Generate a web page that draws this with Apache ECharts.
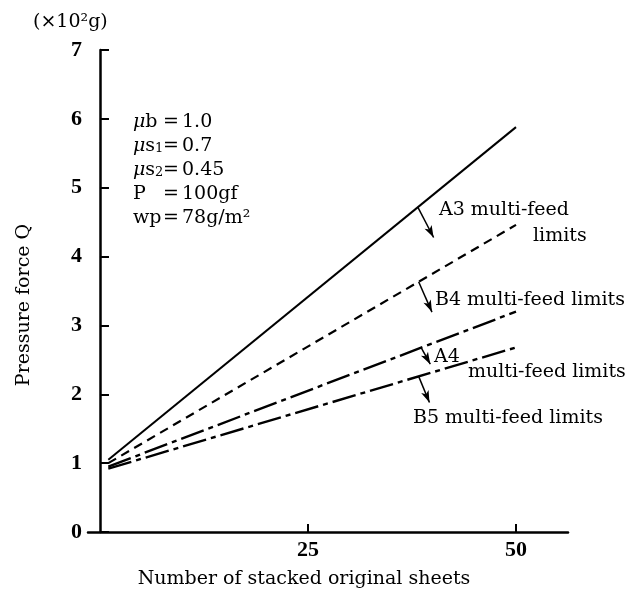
<!DOCTYPE html>
<html>
<head>
<meta charset="utf-8">
<script src="https://cdn.jsdelivr.net/npm/echarts@6/dist/echarts.min.js"></script>
<style>
  html, body { margin: 0; padding: 0; background: #fff; }
  #chart { width: 628px; height: 591px; }
</style>
</head>
<body>
<div id="chart"></div>
<script>
// number of stacked sheets (x) and pressure force Q (x10^2 g)
const sheets = [1, 50];
const a3Limit = [1.05, 5.88];
const b4Limit = [1.0, 4.46];
const a4Limit = [0.95, 3.2];
const b5Limit = [0.92, 2.68];
const xTickValues = [25, 50];

// arrows: x where arrow leaves the line, and its end offset (dx, dy) in data units
const arrowX = [38.2, 38.3, 38.6, 38.3];
const arrowOffset = [[1.9, -0.44], [1.6, -0.44], [1.1, -0.24], [1.3, -0.38]];

const serif = 'DejaVu Serif';

function lineAt(ys, x) {
  return ys[0] + (x - sheets[0]) / (sheets[1] - sheets[0]) * (ys[1] - ys[0]);
}

function arrow(ys, i) {
  const x = arrowX[i];
  const y = lineAt(ys, x);
  return {
    silent: true,
    symbol: ['none', 'arrow'],
    symbolSize: [6, 12],
    label: { show: false },
    lineStyle: { color: '#000', width: 1.5, type: 'solid' },
    data: [[{ coord: [x, y] }, { coord: [x + arrowOffset[i][0], y + arrowOffset[i][1]] }]]
  };
}

function makeSeries(name, ys, type, width, i) {
  return {
    name: name,
    type: 'line',
    data: sheets.map((x, k) => [x, ys[k]]),
    showSymbol: false,
    lineStyle: { color: '#000', width: width, type: type },
    markLine: arrow(ys, i)
  };
}

const labelFont = { fontFamily: serif, fontSize: 19, fill: '#000' };
function txt(text, x, y, extra) {
  return { type: 'text', x: x, y: y, style: Object.assign({ text: text, verticalAlign: 'middle' }, labelFont, extra || {}) };
}

const paramRich = {
  mu: { fontFamily: serif, fontSize: 19, fontStyle: 'italic' },
  n: { fontFamily: serif, fontSize: 19 },
  sub: { fontFamily: serif, fontSize: 13, verticalAlign: 'bottom' }
};
const paramNames = ['{mu|μ}{n|b}', '{mu|μ}{n|s}{sub|1}', '{mu|μ}{n|s}{sub|2}', '{n|P}', '{n|wp}'];
const paramValues = ['1.0', '0.7', '0.45', '100gf', '78g/m²'];
const paramY = [122, 146, 170, 194, 218];

let graphics = [
  txt('(×10²g)', 33, 22),
  { type: 'text', x: 24, y: 305, rotation: Math.PI / 2,
    style: Object.assign({ text: 'Pressure force Q', align: 'center', verticalAlign: 'middle' }, labelFont) },
  txt('Number of stacked original sheets', 304, 579, { align: 'center' }),
  txt('A3 multi-feed', 439, 210),
  txt('limits', 533, 236),
  txt('B4 multi-feed limits', 435, 300),
  txt('A4', 434, 357),
  txt('multi-feed limits', 468, 372),
  txt('B5 multi-feed limits', 413, 418)
];
paramNames.forEach((nm, k) => {
  graphics.push({ type: 'text', x: 133, y: paramY[k], style: { text: nm, rich: paramRich, verticalAlign: 'middle', fill: '#000' } });
  graphics.push(txt('=', 163, paramY[k]));
  graphics.push(txt(paramValues[k], 182, paramY[k]));
});

let option = {
  animation: false,
  backgroundColor: '#fff',
  grid: { left: 88, right: 60, top: 50, bottom: 59 },
  xAxis: {
    type: 'value',
    min: -1.44,
    max: 56.25,
    axisLine: { onZero: false, lineStyle: { color: '#000', width: 2.5 } },
    axisTick: { inside: true, length: 8, customValues: xTickValues, lineStyle: { color: '#000', width: 2 } },
    axisLabel: { customValues: xTickValues, color: '#000', fontFamily: 'Liberation Serif', fontWeight: 'bold', fontSize: 22, margin: 7 },
    splitLine: { show: false }
  },
  yAxis: {
    type: 'value',
    min: 0,
    max: 7,
    interval: 1,
    axisLine: { show: true, lineStyle: { color: '#000', width: 2.5 } },
    axisTick: { show: true, inside: true, length: 9, lineStyle: { color: '#000', width: 2 } },
    axisLabel: { color: '#000', fontFamily: 'Liberation Serif', fontWeight: 'bold', fontSize: 22, margin: 6 },
    splitLine: { show: false }
  },
  series: [
    makeSeries('A3', a3Limit, 'solid', 2, 0),
    makeSeries('B4', b4Limit, [9, 6], 2.2, 1),
    makeSeries('A4', a4Limit, [24, 5, 5, 5], 2.4, 2),
    makeSeries('B5', b5Limit, [24, 5, 5, 5], 2.4, 3)
  ],
  graphic: graphics
};

let chart = echarts.init(document.getElementById('chart'));
chart.setOption(option);
window.addEventListener('resize', () => {
  chart.resize();
});
</script>
</body>
</html>
